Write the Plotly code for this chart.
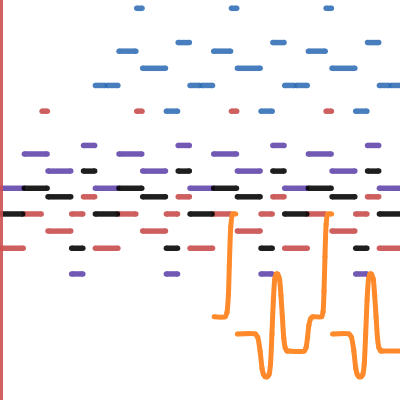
import plotly.graph_objects as go

# Time in beats (4 beats per bar), pitch in MIDI note numbers
blue_start = [4.75, 8.75, 12.75, 6.5, 10.5, 14.5, 4.0, 8.0, 12.0, 5.0, 9.0, 13.0,
              3.0, 3.5, 7.0, 7.5, 11.0, 11.5, 15.0, 15.5, 6.0, 10.0, 14.0]
blue_end = [4.97, 8.97, 12.97, 6.97, 10.97, 14.97, 4.71, 8.71, 12.71, 5.96, 9.96, 13.96,
            3.4, 3.95, 7.4, 7.95, 11.4, 11.95, 15.4, 15.95, 6.47, 10.47, 14.47]
blue_pitch = [84, 84, 84, 80, 80, 80, 79, 79, 79, 77, 77, 77,
              75, 75, 75, 75, 75, 75, 75, 75, 72, 72, 72]

red_start = [0.75, 4.75, 8.75, 12.75, 2.5, 6.5, 10.5, 14.5,
             0.0, 2.0, 4.0, 6.0, 8.0, 10.0, 12.0, 14.0,
             1.0, 5.0, 9.0, 13.0, -1.0, 3.0, 7.0, 11.0, 15.0]
red_end = [0.97, 4.97, 8.97, 12.97, 2.97, 6.97, 10.97, 14.97,
           0.71, 2.47, 4.71, 6.47, 8.71, 10.47, 12.71, 14.47,
           1.96, 5.96, 9.96, 13.96, -0.05, 3.95, 7.95, 11.95, 15.95]
red_pitch = [72, 72, 72, 72, 62, 62, 62, 62,
             60, 60, 60, 60, 60, 60, 60, 60,
             58, 58, 58, 58, 56, 56, 56, 56, 56]

black_start = [2.5, 6.5, 10.5, 14.5, 0.0, 4.0, 8.0, 12.0, 1.0, 5.0, 9.0, 13.0,
               -1.0, 3.0, 7.0, 11.0, 15.0, 2.0, 6.0, 10.0, 14.0]
black_end = [2.97, 6.97, 10.97, 14.97, 0.96, 4.96, 8.96, 12.96, 1.96, 5.96, 9.96, 13.96,
             -0.07, 3.93, 7.93, 11.93, 15.93, 2.47, 6.47, 10.47, 14.47]
black_pitch = [65, 65, 65, 65, 63, 63, 63, 63, 62, 62, 62, 62,
               60, 60, 60, 60, 60, 56, 56, 56, 56]

purple_start = [2.5, 6.5, 10.5, 14.5, 0.0, 4.0, 8.0, 12.0, 1.0, 5.0, 9.0, 13.0,
                -1.0, 3.0, 7.0, 11.0, 15.0, 2.0, 6.0, 10.0, 14.0]
purple_end = [2.97, 6.97, 10.97, 14.97, 0.96, 4.96, 8.96, 12.96, 1.96, 5.96, 9.96, 13.96,
              -0.07, 3.93, 7.93, 11.93, 15.93, 2.47, 6.47, 10.47, 14.47]
purple_pitch = [68, 68, 68, 68, 67, 67, 67, 67, 65, 65, 65, 65,
                63, 63, 63, 63, 63, 53, 53, 53, 53]

# Sung pitch contour (segments separated by None)
contour_time = [8.02, 8.48, 8.56, 8.62, 8.66, 8.72, 8.8, 8.93, None,
                9.0, 9.76, 9.86, 9.96, 10.04, 10.1, 10.18, 10.26, 10.34, 10.4,
                10.46, 10.52, 10.58, 10.64, 10.7, 10.78, 10.84, 10.9, 10.96, 11.02,
                11.1, 11.18, 11.82, 11.9, 11.96, 12.02, 12.1, 12.18, 12.56, 12.62,
                12.66, 12.7, 12.75, 12.82, 12.98, None,
                13.02, 13.72, 13.82, 13.92, 14.0, 14.06, 14.14, 14.22, 14.3, 14.36,
                14.42, 14.48, 14.54, 14.6, 14.66, 14.74, 14.8, 14.86, 14.92, 14.98,
                15.06, 15.14, 15.9]
contour_pitch = [48, 48, 48.5, 50.5, 54, 58.5, 60, 60, None,
                 46, 46, 45.6, 44, 42, 41.3, 41, 41, 41.3, 42.5,
                 46, 50, 52.4, 53, 53, 52.4, 50.5, 48, 45.5, 44.4,
                 44, 44, 44, 44.4, 45.5, 47, 47.8, 48, 48, 48.6,
                 51, 55, 58.8, 60, 60, None,
                 46, 46, 45.6, 44, 42, 41.3, 41, 41, 41.3, 42.5,
                 46, 50, 52.4, 53, 53, 52.4, 50.5, 48, 45.5, 44.4,
                 44, 44, 44]

playhead_time = -0.965

NOTE_W = 5.5
fig = go.Figure()


def add_notes(starts, ends, pitches, color):
    for s, e, p in zip(starts, ends, pitches):
        fig.add_trace(go.Scatter(
            x=[s, e], y=[p, p], mode="lines+markers",
            line=dict(color=color, width=NOTE_W),
            marker=dict(color=color, size=NOTE_W, line=dict(width=0)),
            opacity=0.88, showlegend=False, hoverinfo="skip"))


add_notes(blue_start, blue_end, blue_pitch, "#2f6db5")
add_notes(red_start, red_end, red_pitch, "#c84a4a")
add_notes(purple_start, purple_end, purple_pitch, "#5f43a9")
add_notes(black_start, black_end, black_pitch, "#000000")

fig.add_trace(go.Scatter(
    x=contour_time, y=contour_pitch, mode="lines+markers",
    line=dict(color="#ff8a2b", width=5, shape="spline", smoothing=0.6),
    marker=dict(color="#ff8a2b", size=5, line=dict(width=0)),
    connectgaps=False, showlegend=False, hoverinfo="skip"))

fig.add_shape(type="line", xref="x", yref="paper", x0=playhead_time, x1=playhead_time,
              y0=0, y1=1, line=dict(color="rgba(205,80,80,0.9)", width=3))

fig.update_layout(
    width=400, height=400,
    margin=dict(l=0, r=0, t=0, b=0),
    paper_bgcolor="white", plot_bgcolor="white",
    xaxis=dict(range=[-1.029, 15.87], visible=False),
    yaxis=dict(range=[38.29, 84.97], visible=False),
    showlegend=False,
)

fig.write_html("out.html", config={"displayModeBar": False},
               post_script="document.body.style.margin='0';")
